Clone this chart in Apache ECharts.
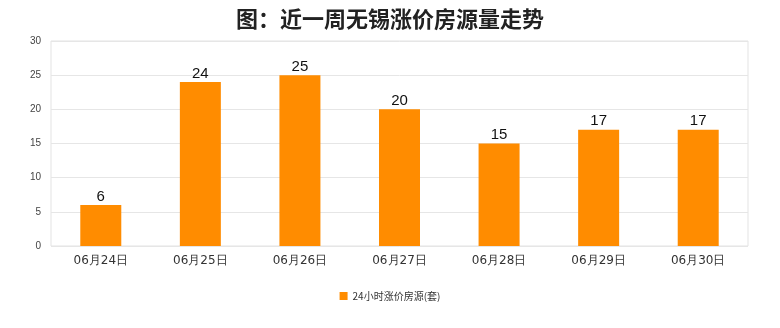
<!DOCTYPE html>
<html><head><meta charset="utf-8">
<script src="https://cdn.jsdelivr.net/npm/echarts@6/dist/echarts.min.js"></script>
<style>html,body{margin:0;padding:0;background:#fff}#c{width:780px;height:328px}</style>
</head><body><div id="c"></div>
<script>
const categories = ['06月24日','06月25日','06月26日','06月27日','06月28日','06月29日','06月30日'];
const values = [6,24,25,20,15,17,17];
const seriesName = '24小时涨价房源(套)';
const titleText = '图：近一周无锡涨价房源量走势';
const chart = echarts.init(document.getElementById('c'));
chart.setOption({
  animation:false,
  backgroundColor:'#fff',
  title:{text:titleText,left:'center',top:3,textStyle:{fontFamily:'Noto Sans CJK SC',fontSize:22,fontWeight:'bold',color:'#222'}},
  legend:{bottom:22,left:'center',itemWidth:8,itemHeight:8,icon:'rect',textStyle:{fontSize:10,color:'#333',fontFamily:'Noto Sans CJK SC'},data:[seriesName]},
  grid:{left:51,right:32,top:41,bottom:82,show:true,borderColor:'#e3e3e3',borderWidth:1},
  xAxis:{type:'category',data:categories,axisLine:{show:false},axisTick:{show:false},
    axisLabel:{color:'#333',fontSize:12,margin:9,fontFamily:'DejaVu Sans'}},
  yAxis:{type:'value',min:0,max:30,interval:5,axisLine:{show:false},axisTick:{show:false},
    axisLabel:{color:'#444',fontSize:10,margin:10},splitLine:{lineStyle:{color:'#e6e6e6'}}},
  series:[{type:'bar',name:seriesName,data:values,barWidth:41,itemStyle:{color:'#FF8C00'},
    label:{show:true,position:'top',color:'#111',fontSize:15,distance:1}}]
});
</script></body></html>
